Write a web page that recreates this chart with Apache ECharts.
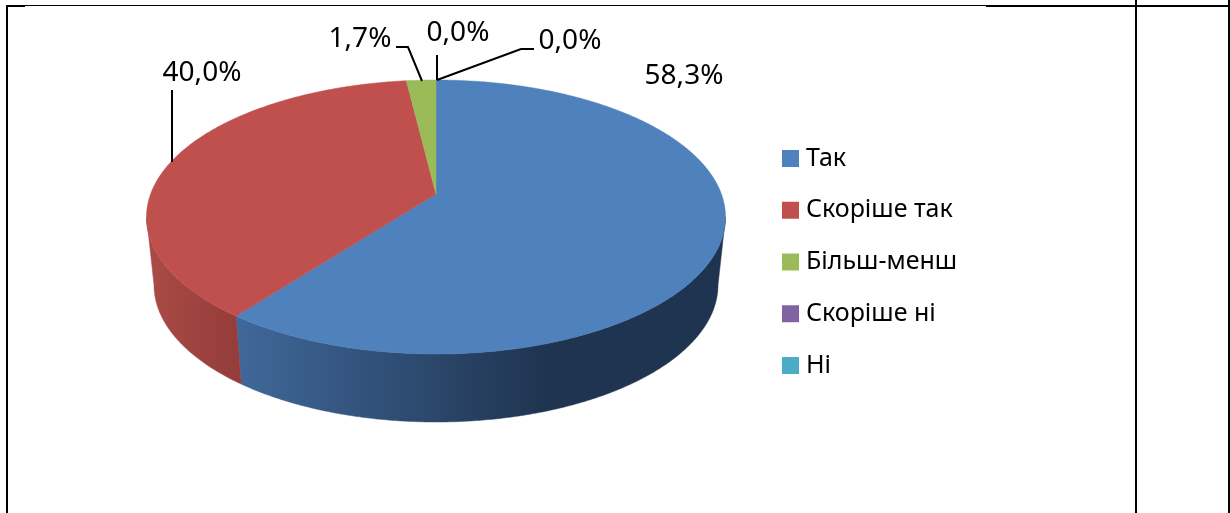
<!DOCTYPE html>
<html><head><meta charset="utf-8">
<style>html,body{margin:0;padding:0;background:#fff}#c{width:1230px;height:513px}</style>
<script src="https://cdn.jsdelivr.net/npm/echarts@6/dist/echarts.min.js"></script>
</head><body><div id="c"></div>
<script>
const categories = ['Так', 'Скоріше так', 'Більш-менш', 'Скоріше ні', 'Ні'];
const values = [58.3, 40.0, 1.7, 0.0, 0.0];
const colors = ['#4f81bd', '#c0504d', '#9bbb59', '#8064a2', '#4bacc6'];

const LEGEND_FONT_SIZE = 25;
const LABEL_FONT = '28px "Noto Sans"';
const TOP = {cx: 436, cy: 217, rx: 289.5, ry: 137};
const BOTTOM = {cx: 436, cy: 285, rx: 282, ry: 137};
const APEX = {x: 436, y: 194};
const STRETCH_BACK = 2.44, STRETCH_FRONT = 2.85;
const SIDE_GRAD = [
  {x: 237, x2: 545, from: '#40689a', to: '#1f3450'},
  {x: 147, x2: 243, from: '#aa4b47', to: '#933c39'}
];
const LABELS = [
  {x: 684, y: 76, line: null},
  {x: 202, y: 73, line: [[172, 90], [172, 162]]},
  {x: 360, y: 39, line: [[396, 47], [408, 47], [422, 81]]},
  {x: 458, y: 33, line: [[437, 55], [437, 80]]},
  {x: 570, y: 41, line: [[534, 49], [521, 49], [437, 80]]}
];

const total = values.reduce((a, b) => a + b, 0);
const starts = [];
values.reduce((acc, v, i) => { starts[i] = acc; return acc + v; }, 0);

// Ray from apex at pie angle theta → ellipse parameter phi (clockwise from top)
function phiOf(thetaDeg) {
  const t = thetaDeg * Math.PI / 180;
  const k = Math.cos(t) > 0 ? STRETCH_BACK : STRETCH_FRONT;
  const dx = k * Math.sin(t), dy = -Math.cos(t);
  const ox = APEX.x - TOP.cx, oy = APEX.y - TOP.cy;
  const A = dx * dx / (TOP.rx * TOP.rx) + dy * dy / (TOP.ry * TOP.ry);
  const B = 2 * (ox * dx / (TOP.rx * TOP.rx) + oy * dy / (TOP.ry * TOP.ry));
  const C = ox * ox / (TOP.rx * TOP.rx) + oy * oy / (TOP.ry * TOP.ry) - 1;
  const s = (-B + Math.sqrt(B * B - 4 * A * C)) / (2 * A);
  const px = ox + s * dx, py = oy + s * dy;
  let phi = Math.atan2(px / TOP.rx, -py / TOP.ry) * 180 / Math.PI;
  if (phi < -1e-6) phi += 360;
  if (thetaDeg >= 360 - 1e-6) phi = 360;
  return phi;
}
function onEllipse(e, phi) {
  const p = phi * Math.PI / 180;
  return [e.cx + e.rx * Math.sin(p), e.cy - e.ry * Math.cos(p)];
}
function arc(e, a, b) {
  const n = Math.max(2, Math.ceil(Math.abs(b - a) / 0.5));
  const pts = [];
  for (let i = 0; i <= n; i++) pts.push(onEllipse(e, a + (b - a) * i / n));
  return pts;
}

function renderSlice(i) {
  return function (params, api) {
    const v = api.value(0);
    const children = [];
    const th0 = starts[i] / total * 360, th1 = (starts[i] + v) / total * 360;
    if (v > 0) {
      const p0 = phiOf(th0), p1 = phiOf(th1);
      const a = Math.max(p0, 90), b = Math.min(p1, 270);
      if (b > a) {
        const g = SIDE_GRAD[i] || SIDE_GRAD[0];
        const fill = {type: 'linear', x: g.x, y: 0, x2: g.x2, y2: 0, global: true,
          colorStops: [{offset: 0, color: g.from}, {offset: 1, color: g.to}]};
        children.push({type: 'polygon', z2: 1,
          shape: {points: arc(TOP, a, b).concat(arc(BOTTOM, b, a))},
          style: {fill: fill, stroke: fill, lineWidth: 0.5}});
      }
      children.push({type: 'polygon', z2: 2,
        shape: {points: [[APEX.x, APEX.y]].concat(arc(TOP, p0, p1))},
        style: {fill: colors[i], stroke: colors[i], lineWidth: 0.5}});
    }
    const L = LABELS[i];
    if (L.line) children.push({type: 'polyline', z2: 3, shape: {points: L.line},
      style: {fill: null, stroke: '#000', lineWidth: 2}});
    children.push({type: 'text', z2: 3, style: {
      text: v.toFixed(1).replace('.', ',') + '%', x: L.x, y: L.y,
      align: 'center', verticalAlign: 'middle', font: LABEL_FONT, fill: '#000'}});
    return {type: 'group', children: children};
  };
}

const rule = (x, y, w, h) => ({type: 'rect', silent: true,
  shape: {x: x, y: y, width: w, height: h}, style: {fill: '#000'}});

const chart = echarts.init(document.getElementById('c'));
chart.setOption({
  animation: false,
  backgroundColor: '#fff',
  graphic: [
    rule(6, 5, 2, 508), rule(8, 5, 978, 1), rule(8, 5, 17, 2), rule(986, 5, 244, 2),
    rule(1135, 0, 2, 513), rule(1228, 0, 2, 513)
  ],
  legend: {
    orient: 'vertical', left: 782, top: 146, padding: 0, icon: 'rect',
    itemWidth: 17, itemHeight: 17, itemGap: 26.75,
    selectedMode: false,
    textStyle: {fontFamily: 'Noto Sans', fontSize: LEGEND_FONT_SIZE, color: '#000', padding: [0, 0, 0, 2]},
    data: categories
  },
  series: categories.map((name, i) => ({
    type: 'custom', name: name, coordinateSystem: 'none', silent: true,
    itemStyle: {color: colors[i]},
    renderItem: renderSlice(i),
    data: [{name: name, value: [values[i]]}]
  }))
});
</script></body></html>
